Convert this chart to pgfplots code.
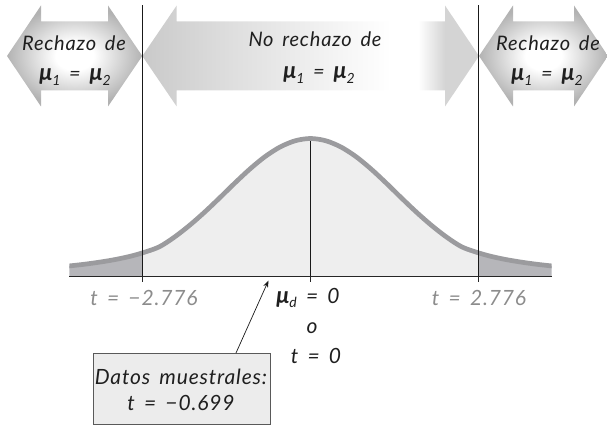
\documentclass[border=0pt]{standalone}
\usepackage{fontspec}
\setmainfont{Lato}[WordSpace=1.6, LetterSpace=4]
\usepackage{pgfplots}
\pgfplotsset{compat=1.18}
\usetikzlibrary{arrows.meta}
\pgfdeclareradialshading{rej}{\pgfpoint{0bp}{0bp}}{color(0bp)=(white); color(7bp)=(white); color(25bp)=(gray!60); color(50bp)=(gray!60)}
\pgfdeclarehorizontalshading{norej}{100bp}{color(0bp)=(gray!42); color(25bp)=(gray!42); color(38bp)=(gray!26); color(56bp)=(gray!6); color(62bp)=(white); color(66bp)=(white); color(70bp)=(gray!34); color(100bp)=(gray!34)}
\definecolor{curvec}{RGB}{155,155,158}
\definecolor{tailc}{RGB}{182,182,186}
\definecolor{centerc}{RGB}{238,238,238}
\definecolor{boxc}{RGB}{236,236,236}
\newcommand{\txt}{\fontsize{20}{24}\selectfont\itshape}
\newcommand{\btxt}{\fontsize{21}{25}\selectfont\itshape}
\newcommand{\sub}[1]{\raisebox{-0.22em}{\fontsize{14}{14}\selectfont #1}}
\newcommand{\mmu}{{\fontsize{23}{25}\selectfont\bfseries μ}}
\newcommand{\mueq}{\mmu\sub{1} = \mmu\sub{2}}
\begin{document}
\begin{tikzpicture}
\useasboundingbox (0,0) rectangle (607pt,425pt);
\begin{scope}[x=1pt,y=-1pt,shift={(0pt,425pt)}]
\shade[shading=rej] (7,56) -- (41,5.5) -- (41,21.5) -- (108,21.5) -- (108,5.5) -- (142.3,56) -- (108,106.5) -- (108,90.5) -- (41,90.5) -- (41,106.5) -- cycle;
\shade[shading=norej] (142.3,56) -- (176.7,5.5) -- (176.7,21.5) -- (445,21.5) -- (445,5.5) -- (479,56) -- (445,106.5) -- (445,90.5) -- (176.7,90.5) -- (176.7,106.5) -- cycle;
\shade[shading=rej] (479,56) -- (513,5.5) -- (513,21.5) -- (574,21.5) -- (574,5.5) -- (608,56) -- (574,106.5) -- (574,90.5) -- (513,90.5) -- (513,106.5) -- cycle;
\end{scope}
\begin{axis}[at={(69.3pt,148.3pt)}, anchor=south west, scale only axis,
  width=482.4pt, height=276.4pt, xmin=-3.98, xmax=3.98, ymin=0, ymax=2,
  axis x line*=bottom, axis y line=none, xtick={-2.776,0,2.776}, xticklabels={,,},
  tick align=outside, major tick length=5pt,
  tick style={black!85, line width=0.8pt}, axis line style={black!85, line width=0.9pt},
  clip mode=individual, axis on top]
\addplot[draw=none, fill=tailc, smooth] coordinates {(-4,0.077) (-3.75,0.089) (-3.5,0.104) (-3.25,0.122) (-3,0.145) (-2.776,0.172)} \closedcycle;
\addplot[draw=none, fill=centerc, smooth] coordinates {(-2.776,0.172) (-2.5,0.215) (-2.25,0.285) (-2,0.370) (-1.75,0.466) (-1.5,0.570) (-1.25,0.677) (-1,0.779) (-0.75,0.869) (-0.5,0.939) (-0.25,0.984) (0,1) (0.25,0.984) (0.5,0.939) (0.75,0.869) (1,0.779) (1.25,0.677) (1.5,0.570) (1.75,0.466) (2,0.370) (2.25,0.285) (2.5,0.215) (2.776,0.172)} \closedcycle;
\addplot[draw=none, fill=tailc, smooth] coordinates {(2.776,0.172) (3,0.145) (3.25,0.122) (3.5,0.104) (3.75,0.089) (4,0.077)} \closedcycle;
\draw[black!90, line width=0.8pt] (axis cs:0,0) -- (axis cs:0,1);
\addplot[curvec, line width=4.7pt, smooth] coordinates {(-4,0.077) (-3.75,0.089) (-3.5,0.104) (-3.25,0.122) (-3,0.145) (-2.776,0.172) (-2.5,0.215) (-2.25,0.285) (-2,0.370) (-1.75,0.466) (-1.5,0.570) (-1.25,0.677) (-1,0.779) (-0.75,0.869) (-0.5,0.939) (-0.25,0.984) (0,1) (0.25,0.984) (0.5,0.939) (0.75,0.869) (1,0.779) (1.25,0.677) (1.5,0.570) (1.75,0.466) (2,0.370) (2.25,0.285) (2.5,0.215) (2.776,0.172) (3,0.145) (3.25,0.122) (3.5,0.104) (3.75,0.089) (4,0.077)};
\draw[black!90, line width=0.8pt] (axis cs:-2.776,0) -- (axis cs:-2.776,1.965);
\draw[black!90, line width=0.8pt] (axis cs:2.776,0) -- (axis cs:2.776,1.965);
\end{axis}
\begin{scope}[x=1pt,y=-1pt,shift={(0pt,425pt)}, every node/.style={font=\txt, text=black!88, inner sep=0pt}]
\node at (74,43) {Rechazo de};
\node at (75,77) {\mueq};
\node at (315,39) {No rechazo de};
\node at (319,75) {\mueq};
\node at (548,43) {Rechazo de};
\node at (547,77) {\mueq};
\node[font=\btxt, text=black!45] at (144,298) {t = −2.776};
\node[font=\btxt, text=black!45] at (479,298) {t = 2.776};
\node[font=\btxt] at (308,298) {\mmu\sub{d} = 0};
\node[font=\btxt] at (312,328) {o};
\node[font=\btxt] at (316,356) {t = 0};
\draw[fill=boxc, draw=black!65, line width=0.9pt] (93,353) rectangle (270,424);
\node[font=\btxt] at (181,377) {Datos muestrales:};
\node[font=\btxt] at (181,403) {t = −0.699};
\draw[-{Stealth[length=7pt,width=5pt]}, line width=0.7pt, black!90] (236,353) -- (268.5,280.5);
\end{scope}
\end{tikzpicture}
\end{document}
